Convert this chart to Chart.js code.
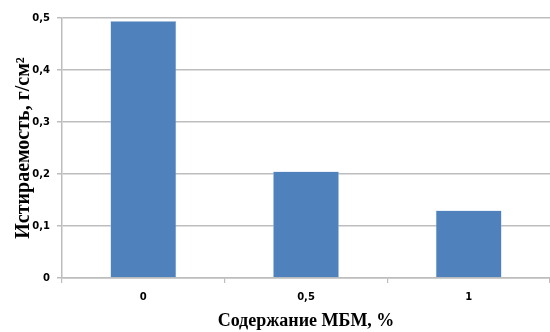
<!DOCTYPE html>
<html>
<head>
<meta charset="utf-8">
<script src="https://cdn.jsdelivr.net/npm/chart.js@4/dist/chart.umd.min.js"></script>
<style>
  html, body { margin: 0; padding: 0; background: #fff; }
  #wrap { width: 550px; height: 332px; position: relative; }
</style>
</head>
<body>
<div id="wrap"><canvas id="c"></canvas></div>
<script>
// Abrasion vs. MBM content
const categories = ['0', '0,5', '1'];
const abrasion = [0.494, 0.205, 0.13];
const yTicks = [0, 0.1, 0.2, 0.3, 0.4, 0.5];

const xTitle = 'Содержание МБМ, %';
const yTitle = 'Истираемость, г/см²';

const gridColor = '#bdbdbd';
const tickFont = { family: 'DejaVu Sans', weight: 'bold', size: 10 };

new Chart(document.getElementById('c'), {
  type: 'bar',
  data: {
    labels: categories,
    datasets: [{
      data: abrasion,
      backgroundColor: '#4f81bd',
      borderColor: '#a9c3e3',
      borderWidth: 0.6,
      barPercentage: 0.81,
      categoryPercentage: 0.5
    }]
  },
  options: {
    responsive: true,
    maintainAspectRatio: false,
    animation: false,
    layout: { padding: { top: 18, right: 0, left: 0, bottom: 0 } },
    plugins: { legend: { display: false }, tooltip: { enabled: false } },
    scales: {
      x: {
        offset: true,
        grid: {
          offset: true,
          drawOnChartArea: false,
          drawTicks: true,
          tickLength: 5,
          color: gridColor,
          lineWidth: 1.2
        },
        border: { color: gridColor, width: 1.5 },
        ticks: { color: '#000', font: tickFont, padding: 8 },
        title: {
          display: true,
          text: xTitle,
          color: '#000',
          font: { family: 'Liberation Serif', weight: 'bold', size: 18 },
          padding: { top: 5, bottom: 0 }
        },
        afterFit: s => { s.height = 54; }
      },
      y: {
        min: 0,
        max: 0.5,
        afterBuildTicks: s => { s.ticks = yTicks.map(v => ({ value: v })); },
        grid: {
          color: gridColor,
          lineWidth: 1.5,
          tickLength: 5
        },
        border: { color: gridColor, width: 1.5 },
        ticks: {
          color: '#000',
          font: tickFont,
          padding: 7,
          callback: v => String(v).replace('.', ',')
        },
        title: {
          display: true,
          text: yTitle,
          color: '#000',
          font: { family: 'Liberation Serif', weight: 'bold', size: 20 },
          padding: { top: 12, bottom: 0 }
        },
        afterFit: s => { s.width = 62; }
      }
    }
  }
});
</script>
</body>
</html>
